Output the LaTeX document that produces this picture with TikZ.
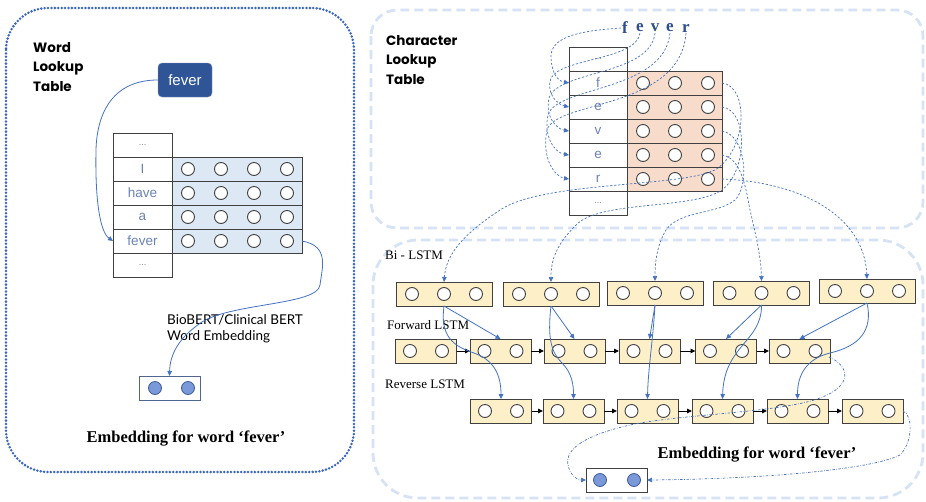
\documentclass[tikz,border=0pt]{standalone}
\usepackage{fontspec}
\setmainfont{Liberation Serif}
\setsansfont{Liberation Sans}
\newfontfamily\headfont{Poppins}
\newfontfamily\notefont{Lato}
\usetikzlibrary{arrows.meta,calc}

\definecolor{linkblue}{HTML}{4472C4}
\definecolor{darkbox}{HTML}{2F5597}
\definecolor{gridline}{HTML}{404040}
\definecolor{wordfill}{HTML}{DDE8F5}
\definecolor{charfill}{HTML}{F8DCCB}
\definecolor{lstmfill}{HTML}{FDEFC8}
\definecolor{celltext}{HTML}{6A82B4}
\definecolor{panelblue}{HTML}{3A66C0}
\definecolor{panellight}{HTML}{D6E3F4}
\definecolor{embfill}{HTML}{7B98D8}
\definecolor{embline}{HTML}{3C5A9A}
\definecolor{letterblue}{HTML}{2E4F8C}

\begin{document}
\begin{tikzpicture}[x=1pt,y=-1pt,
  cell/.style={draw=gridline, line width=1, minimum height=24, inner sep=0, outer sep=0,
    font=\sffamily\fontsize{13.5}{13.5}\selectfont, text=celltext},
  wcell/.style={cell, minimum width=59},
  ccell/.style={cell, minimum width=58},
  vecrow/.style={draw=gridline, line width=1, minimum height=24, inner sep=0, outer sep=0},
  wvec/.style={vecrow, fill=wordfill, minimum width=130},
  cvec/.style={vecrow, fill=charfill, minimum width=95},
  unit/.style={circle, draw=gridline, fill=white, line width=0.9, minimum size=13, inner sep=0},
  embunit/.style={circle, draw=embline, fill=embfill, line width=0.8, minimum size=13, inner sep=0},
  lstm/.style={draw=gridline, line width=1, fill=lstmfill, minimum height=24, inner sep=0, outer sep=0},
  bibox/.style={lstm, minimum width=96},
  dirbox/.style={lstm, minimum width=61},
  embbox/.style={draw=#1, line width=1, fill=white, minimum width=61, minimum height=24, inner sep=0, outer sep=0},
  dotsfont/.style={font=\sffamily\fontsize{9}{9}\selectfont, text=gray},
  headtext/.style={font=\headfont\bfseries\fontsize{13.5}{19.5}\selectfont, align=left, inner sep=0},
  rowlabel/.style={font=\fontsize{13}{13}\selectfont, anchor=west, inner sep=0},
  embtitle/.style={font=\bfseries\fontsize{16.5}{16.5}\selectfont, inner sep=0},
  letter/.style={font=\bfseries\fontsize{17}{17}\selectfont, text=letterblue, inner sep=1},
  link/.style={linkblue, line width=0.8, -{Triangle[length=5pt,width=4.5pt]}},
  chain/.style={black, line width=0.9, -{Triangle[length=5pt,width=4.5pt]}},
  lookup/.style={linkblue, line width=0.7, dash pattern=on 2.2pt off 1.8pt, -{Triangle[length=5pt,width=4.5pt]}},
  merge/.style={linkblue, line width=0.7, dash pattern=on 2.5pt off 1.5pt on 0.6pt off 1.5pt, -{Triangle[length=5pt,width=4.5pt]}}
]
\useasboundingbox (0,0) rectangle (926,501);

% ---------------- panels ----------------
\draw[panelblue, line width=2.8, line cap=round, dash pattern=on 0pt off 3.4pt, rounded corners=42]
  (6,8) rectangle (354,472);
\draw[panellight, line width=2.8, dash pattern=on 9pt off 5pt, rounded corners=26]
  (371,10) rectangle (923,228);
\draw[panellight, line width=2.8, dash pattern=on 9pt off 5pt, rounded corners=45]
  (373,240) rectangle (923,498);

% ---------------- word lookup ----------------
\node[headtext, anchor=west] (wtitle) at (33,67) {Word\\Lookup\\Table};
\node[fill=darkbox, draw=darkbox!60!white, rounded corners=4, text=white, minimum width=54,
      minimum height=34, inner sep=0, font=\sffamily\fontsize{15}{15}\selectfont] (query) at (185,80) {fever};

\foreach \i/\t in {0/{},1/I,2/have,3/a,4/fever,5/{}} {
  \node[wcell] (wr\i) at (142.5,145+24*\i) {\t};
}
\node[dotsfont] (wd0) at (wr0) {...};
\node[dotsfont] (wd5) at (wr5) {...};
\foreach \i in {1,...,4} {
  \node[wvec] (wv\i) at (237,145+24*\i) {};
  \foreach \k/\x in {1/188,2/221,3/254,4/287}
    \node[unit] (wv\i-\k) at (\x,145+24*\i) {};
}

\draw[link] (query.west) .. controls (115,80) and (97,110) .. (96,150)
  .. controls (95,200) and (100,232) .. (wr4.west);

\node[embbox=embline!70!gray] (wemb) at (169.5,388) {};
\node[embunit] (wemb-1) at (155,388) {};
\node[embunit] (wemb-2) at (188,388) {};

\node[anchor=west, align=left, font=\notefont\fontsize{13.5}{16}\selectfont, inner sep=0] (bertlbl)
  at (167,329) {BioBERT/Clinical BERT\\Word Embedding};

\draw[link] (wv4.east) .. controls (330,246) and (322,268) .. (320,285)
  .. controls (318,305) and (232,303) .. (202,322)
  .. controls (178,338) and (170,355) .. (wemb.north);

\node[embtitle] (wembtxt) at (186,439) {Embedding for word ‘fever’};

% ---------------- character lookup ----------------
\node[headtext, anchor=west] (ctitle) at (386,60) {Character\\Lookup\\Table};

\foreach \i/\t in {0/{},1/f,2/e,3/v,4/e,5/r,6/{}} {
  \node[ccell] (cr\i) at (598,59+24*\i) {\t};
}
\node[dotsfont] (cd0) at (cr0) {...};
\node[dotsfont] (cd6) at (cr6) {...};
\foreach \i in {1,...,5} {
  \node[cvec] (cv\i) at (674.5,59+24*\i) {};
  \foreach \k/\x in {1/643,2/675,3/708}
    \node[unit] (cv\i-\k) at (\x,59+24*\i) {};
}

\node[letter] (lf)  at (625,28) {f};
\node[letter] (le1) at (640,28) {e};
\node[letter] (lv)  at (655,28) {v};
\node[letter] (le2) at (670,28) {e};
\node[letter] (lr)  at (686,28) {r};

% characters looked up in the table
\draw[lookup] (lf.west) .. controls (575,31) and (550,38) .. (551,58)
  .. controls (552,74) and (558,81) .. (cr1.west);
\draw[lookup] (le1.south) .. controls (636,60) and (562,58) .. (551,78)
  .. controls (546,92) and (556,104) .. (cr2.west);
\draw[lookup] (lv.south) .. controls (650,76) and (558,70) .. (549,98)
  .. controls (545,116) and (556,129) .. (cr3.west);
\draw[lookup] (le2.south) .. controls (664,92) and (556,86) .. (548,115)
  .. controls (543,138) and (556,153) .. (cr4.west);
\draw[lookup] (lr.south) .. controls (680,110) and (556,100) .. (547,130)
  .. controls (541,160) and (556,177) .. (cr5.west);

% character embeddings fed to the Bi-LSTM
\foreach \n/\c/\y in {b1/444/294, b2/551/294, b3/655/293, b4/761.5/293, b5/867/291} {
  \node[bibox] (\n) at (\c,\y) {};
  \foreach \k/\dx in {1/-32,2/0,3/32}
    \node[unit] (\n-\k) at (\c+\dx,\y) {};
}

\draw[lookup] (cv1.east) .. controls (748,86) and (748,145) .. (718,168)
  .. controls (690,188) and (545,180) .. (500,210)
  .. controls (462,235) and (446,255) .. (b1.north);
\draw[lookup] (cv2.east) .. controls (748,110) and (748,170) .. (722,190)
  .. controls (692,210) and (600,200) .. (576,225)
  .. controls (556,245) and (551,260) .. (b2.north);
\draw[lookup] (cv3.east) .. controls (746,135) and (750,185) .. (735,200)
  .. controls (716,215) and (680,210) .. (666,230)
  .. controls (657,245) and (655,262) .. (b3.north);
\draw[lookup] (cv4.east) .. controls (742,158) and (746,190) .. (750,210)
  .. controls (757,240) and (761,258) .. (b4.north);
\draw[lookup] (cv5.east) .. controls (800,182) and (864,215) .. (b5.north);

% ---------------- Bi-LSTM ----------------
\node[rowlabel] (bilbl) at (385,255) {Bi - LSTM};
\node[rowlabel] (fwlbl) at (387,325) {Forward LSTM};
\node[rowlabel] (rvlbl) at (385,384) {Reverse LSTM};

\foreach \n/\c in {f1/426, f2/500.5, f3/574.5, f4/649.5, f5/726, f6/799.5} {
  \node[dirbox] (\n) at (\c,351) {};
  \node[unit] (\n-1) at (\c-16,351) {};
  \node[unit] (\n-2) at (\c+16,351) {};
}
\foreach \n/\c in {r1/501, r2/573.5, r3/647.5, r4/722.5, r5/797.5, r6/872.5} {
  \node[dirbox] (\n) at (\c,411) {};
  \node[unit] (\n-1) at (\c-16,411) {};
  \node[unit] (\n-2) at (\c+16,411) {};
}
\foreach \a/\b in {f1/f2,f2/f3,f3/f4,f4/f5,f5/f6,r1/r2,r2/r3,r3/r4,r4/r5,r5/r6}
  \draw[chain] (\a) -- (\b);

% forward inputs
\draw[link] (b1.south) -- (f2.north);
\draw[link] (b2.south) -- (f3.north);
\draw[link] (b3.south) -- (f4.north);
\draw[link] (b4.south) -- (f5.north);
\draw[link] (b5.south) -- (f6.north);

% reverse inputs
\draw[link] (b1.south) .. controls (440,335) and (452,346) .. (474,353)
  .. controls (494,360) and (501,375) .. (r1.north);
\draw[link] (b2.south) .. controls (547,340) and (552,353) .. (562,363)
  .. controls (572,373) and (573.5,385) .. (r2.north);
\draw[link] (b3.south) .. controls (653,340) and (648,370) .. (r3.north);
\draw[link] (b4.south) .. controls (762,342) and (724,345) .. (r4.north);
\draw[link] (b5.south) .. controls (873,330) and (860,346) .. (830,353)
  .. controls (806,359) and (797.5,375) .. (r5.north);

% final word embedding
\node[embbox=gridline] (cemb) at (616.5,480) {};
\node[embunit] (cemb-1) at (600,480) {};
\node[embunit] (cemb-2) at (634,480) {};

\coordinate (fout) at (829,357);
\draw[merge] (fout) .. controls (850,366) and (853,386) .. (820,398)
  .. controls (780,413) and (680,414) .. (630,425)
  .. controls (582,436) and (565,450) .. (568,465)
  .. controls (570,475) and (577,480) .. (cemb.west);
\draw[merge] (r6.east) .. controls (913,415) and (913,442) .. (900,455)
  .. controls (870,470) and (760,479) .. (cemb.east);

\node[embtitle] (cembtxt) at (757,455) {Embedding for word ‘fever’};
\end{tikzpicture}
\end{document}
